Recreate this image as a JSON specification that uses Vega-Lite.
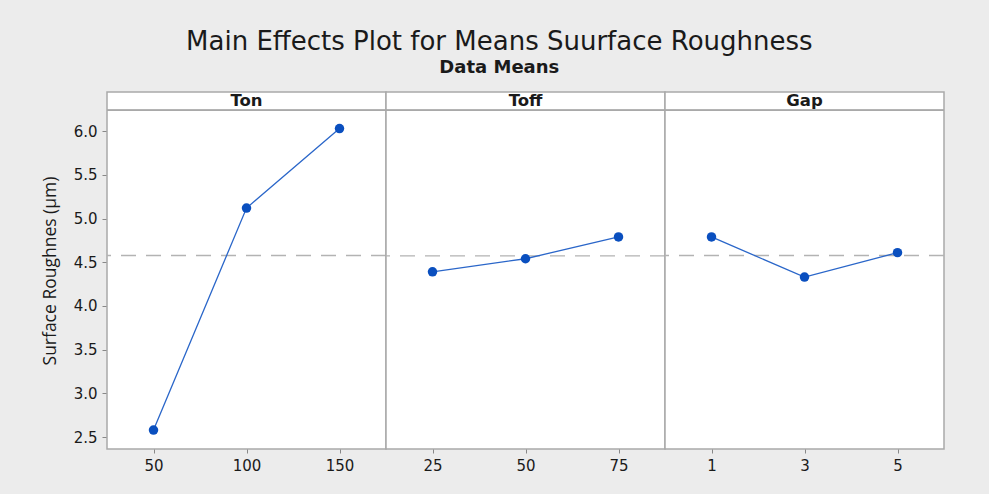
{
  "$schema": "https://vega.github.io/schema/vega-lite/v6.json",
  "background": "#ECECEC",
  "padding": {"left": 41, "top": 29, "right": 45, "bottom": 20},
  "bounds": "flush",
  "title": {
    "text": "Main Effects Plot for Means Suurface Roughness",
    "subtitle": "Data Means",
    "font": "DejaVu Sans",
    "fontSize": 26,
    "fontWeight": "normal",
    "color": "#1a1a1a",
    "subtitleFont": "DejaVu Sans",
    "subtitleFontSize": 18,
    "subtitleFontWeight": "bold",
    "subtitleColor": "#1a1a1a",
    "subtitlePadding": 4,
    "anchor": "middle",
    "frame": "bounds",
    "dx": 6,
    "offset": 14
  },
  "data": {
    "values": [
      {"factor": "Ton", "level": 50, "value": 2.58},
      {"factor": "Ton", "level": 100, "value": 5.12},
      {"factor": "Ton", "level": 150, "value": 6.03},
      {"factor": "Toff", "level": 25, "value": 4.39},
      {"factor": "Toff", "level": 50, "value": 4.54},
      {"factor": "Toff", "level": 75, "value": 4.79},
      {"factor": "Gap", "level": 1, "value": 4.79},
      {"factor": "Gap", "level": 3, "value": 4.33},
      {"factor": "Gap", "level": 5, "value": 4.61}
    ]
  },
  "facet": {
    "column": {
      "field": "factor",
      "type": "nominal",
      "sort": ["Ton", "Toff", "Gap"],
      "title": null,
      "header": {"labels": false, "title": null}
    }
  },
  "spacing": 0,
  "resolve": {"scale": {"x": "independent"}},
  "spec": {
    "width": 279,
    "height": 357,
    "layer": [
      {
        "mark": {"type": "rule", "color": "#a9a9a9", "strokeWidth": 1.5},
        "encoding": {
          "y": {
            "datum": 6.24,
            "type": "quantitative",
            "scale": {"domain": [2.363, 6.448], "nice": false, "zero": false}
          }
        }
      },
      {
        "transform": [{"aggregate": [{"op": "count", "as": "n"}], "groupby": ["factor"]}],
        "mark": {"type": "text", "font": "DejaVu Sans", "fontSize": 16.5, "fontWeight": "bold", "color": "#1a1a1a", "baseline": "middle"},
        "encoding": {
          "y": {"datum": 6.343, "type": "quantitative"},
          "text": {"field": "factor", "type": "nominal"}
        }
      },
      {
        "mark": {"type": "rule", "color": "#b3b3b3", "strokeWidth": 1.4, "strokeDash": [15, 10]},
        "encoding": {
          "y": {"field": "value", "type": "quantitative", "aggregate": "mean"}
        }
      },
      {
        "mark": {"type": "line", "color": "#2a66c9", "strokeWidth": 1.3},
        "encoding": {
          "x": {
            "field": "level",
            "type": "ordinal",
            "sort": "ascending",
            "scale": {"type": "point", "padding": 0.5},
            "axis": {
              "title": null,
              "labelAngle": 0,
              "domain": false,
              "tickColor": "#888888",
              "tickSize": 4,
              "labelPadding": 5,
              "labelFont": "DejaVu Sans",
              "labelFontSize": 15,
              "labelColor": "#1a1a1a"
            }
          },
          "y": {
            "field": "value",
            "type": "quantitative",
            "axis": {
              "title": "Surface Roughnes (µm)",
              "titleFont": "Open Sans",
              "titleFontSize": 17.5,
              "titleFontWeight": "normal",
              "titleColor": "#1a1a1a",
              "titlePadding": 14,
              "values": [2.5, 3.0, 3.5, 4.0, 4.5, 5.0, 5.5, 6.0],
              "format": ".1f",
              "grid": false,
              "domain": false,
              "tickColor": "#888888",
              "tickSize": 5,
              "labelPadding": 5,
              "labelFont": "DejaVu Sans",
              "labelFontSize": 15,
              "labelColor": "#1a1a1a"
            }
          }
        }
      },
      {
        "mark": {"type": "point", "filled": true, "shape": "circle", "size": 90, "color": "#0a4fbf", "opacity": 1},
        "encoding": {
          "x": {"field": "level", "type": "ordinal", "sort": "ascending"},
          "y": {"field": "value", "type": "quantitative"}
        }
      }
    ]
  },
  "config": {
    "view": {"stroke": "#a9a9a9", "strokeWidth": 1.5, "fill": "white"}
  }
}
